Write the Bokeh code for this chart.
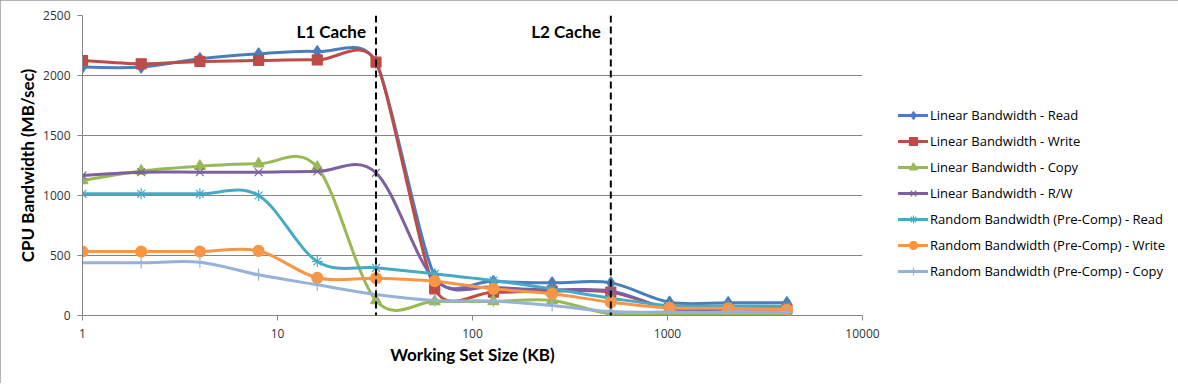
import math
from bokeh.plotting import figure
from bokeh.models import (Range1d, FixedTicker, PrintfTickFormatter, Span, Legend,
                          LegendItem, ColumnDataSource)
from bokeh.core.properties import value
from bokeh.embed import file_html
from bokeh.resources import INLINE

# ---------------- data ----------------
x_kb = [1, 2, 4, 8, 16, 32, 64, 128, 256, 512, 1024, 2048, 4096]
lin_read = [2070, 2070, 2140, 2180, 2200, 2110, 330, 285, 272, 272, 111, 107, 107]
lin_write = [2125, 2097, 2117, 2125, 2130, 2111, 222, 194, 205, 195, 60, 58, 55]
lin_copy = [1125, 1205, 1244, 1264, 1236, 125, 117, 117, 125, 14, 10, 10, 10]
lin_rw = [1167, 1194, 1194, 1194, 1200, 1189, 300, 236, 215, 205, 58, 55, 55]
rnd_read = [1014, 1014, 1014, 1000, 450, 397, 347, 292, 222, 144, 83, 80, 78]
rnd_write = [533, 533, 533, 539, 314, 311, 286, 222, 181, 111, 64, 60, 50]
rnd_copy = [439, 439, 444, 339, 256, 175, 125, 120, 83, 33, 28, 25, 25]

series_names = [
    "Linear Bandwidth - Read",
    "Linear Bandwidth - Write",
    "Linear Bandwidth - Copy",
    "Linear Bandwidth - R/W",
    "Random Bandwidth (Pre-Comp) - Read",
    "Random Bandwidth (Pre-Comp) - Write",
    "Random Bandwidth (Pre-Comp) - Copy",
]
series_values = [lin_read, lin_write, lin_copy, lin_rw, rnd_read, rnd_write, rnd_copy]

cache_sizes = [32, 512]
cache_labels = ["L1 Cache", "L2 Cache"]

x_ticks = [1, 10, 100, 1000, 10000]
y_ticks = [0, 500, 1000, 1500, 2000, 2500]

# ---------------- styles ----------------
colors = ["#4A7EBB", "#BE4B48", "#98B954", "#7D60A0", "#46AAC5", "#F79646", "#95B3D7"]
markers = ["diamond", "square", "triangle", "x", "asterisk", "circle", "cross"]
msizes = [12, 10, 11, 11, 11, 11, 12]

X_START, X_END = 1, 10000
Y_START, Y_END = 0, 2500
FRAME_W, FRAME_H = 780, 300
LABEL_FONT = "Lato"
TEXT_FONT = "Open Sans"

PX_DEC = FRAME_W / math.log10(X_END / X_START)
PX_Y = FRAME_H / (Y_END - Y_START)


def smooth(xs, ys):
    """Excel-like smoothed line: cubic Bezier control points in screen space."""
    sx = [math.log10(x) * PX_DEC for x in xs]
    sy = [y * PX_Y for y in ys]
    n = len(sx)
    cin, cout = [], []
    for i in range(n):
        a, b = max(i - 1, 0), min(i + 1, n - 1)
        tx, ty = sx[b] - sx[a], sy[b] - sy[a]
        tl = math.hypot(tx, ty)
        f = 1.0 / 6.0
        if tl > 0:
            if i > 0:
                f = min(f, math.hypot(sx[i] - sx[i - 1], sy[i] - sy[i - 1]) / (2 * tl))
            if i < n - 1:
                f = min(f, math.hypot(sx[i + 1] - sx[i], sy[i + 1] - sy[i]) / (2 * tl))
        cin.append((sx[i] - f * tx, sy[i] - f * ty))
        cout.append((sx[i] + f * tx, sy[i] + f * ty))
    bx = lambda v: 10 ** (v / PX_DEC)
    by = lambda v: v / PX_Y
    d = dict(x0=[], y0=[], x1=[], y1=[], cx0=[], cy0=[], cx1=[], cy1=[])
    for i in range(n - 1):
        d["x0"].append(xs[i]); d["y0"].append(ys[i])
        d["x1"].append(xs[i + 1]); d["y1"].append(ys[i + 1])
        d["cx0"].append(bx(cout[i][0])); d["cy0"].append(by(cout[i][1]))
        d["cx1"].append(bx(cin[i + 1][0])); d["cy1"].append(by(cin[i + 1][1]))
    return ColumnDataSource(d)


p = figure(
    x_axis_type="log",
    x_range=Range1d(X_START, X_END),
    y_range=Range1d(Y_START, Y_END),
    frame_width=FRAME_W, frame_height=FRAME_H,
    min_border_left=82, min_border_right=314, min_border_top=15, min_border_bottom=68,
    output_backend="svg", toolbar_location=None,
    background_fill_color="white", border_fill_color="white",
)
p.outline_line_color = None
p.styles = {"outline": "1px solid #9a9a9a", "outline-offset": "-1px"}

# grid
p.xgrid.grid_line_color = None
p.ygrid.grid_line_color = "#868686"
p.ygrid.grid_line_width = 1

# axes
for ax in (p.xaxis[0], p.yaxis[0]):
    ax.axis_line_color = "#868686"
    ax.major_tick_line_color = "#868686"
    ax.major_tick_out = 5
    ax.major_tick_in = 0
    ax.minor_tick_line_color = None
    ax.major_label_text_font = TEXT_FONT
    ax.major_label_text_font_size = "12px"
    ax.major_label_text_color = "#333333"
    ax.axis_label_text_font = LABEL_FONT
    ax.axis_label_text_font_style = "bold"
    ax.axis_label_text_font_size = "17px"
    ax.axis_label_text_color = "black"

p.xaxis.ticker = FixedTicker(ticks=x_ticks)
p.xaxis.formatter = PrintfTickFormatter(format="%d")
p.yaxis.ticker = FixedTicker(ticks=y_ticks)
p.xaxis.axis_label = "Working Set Size (KB)"
p.yaxis.axis_label = "CPU Bandwidth (MB/sec)"
p.xaxis.major_label_standoff = 8
p.yaxis.major_label_standoff = 7
p.xaxis.axis_label_standoff = 3
p.yaxis.axis_label_standoff = 2

# series
items = []
for name, vals, col, mk, ms in zip(series_names, series_values, colors, markers, msizes):
    src = smooth(x_kb, vals)
    br = p.bezier(x0="x0", y0="y0", x1="x1", y1="y1", cx0="cx0", cy0="cy0",
                  cx1="cx1", cy1="cy1", source=src, line_color=col, line_width=3,
                  line_cap="round")
    sr = p.scatter(x_kb, vals, marker=mk, size=ms, fill_color=col, line_color=col,
                   line_width=1.2)
    items.append(LegendItem(label=name, renderers=[br, sr]))

# cache boundaries
for cs in cache_sizes:
    p.add_layout(Span(location=cs, dimension="height", line_color="black",
                      line_width=2, line_dash="7 4"))
CACHE_LABEL_Y = 2365
p.text(x=cache_sizes, y=[CACHE_LABEL_Y] * len(cache_sizes), text=cache_labels,
       text_font=value(LABEL_FONT), text_font_style="bold", text_font_size="17px",
       text_align="right", text_baseline="middle", x_offset=-10, text_color="black")

legend = Legend(items=items, location=(36, 34))
legend.label_text_font = TEXT_FONT
legend.label_text_font_size = "13px"
legend.label_text_color = "black"
legend.glyph_width = 30
legend.glyph_height = 20
legend.label_height = 20
legend.spacing = 6
legend.padding = 0
legend.margin = 0
legend.label_standoff = 2
legend.border_line_color = None
legend.background_fill_alpha = 0
p.add_layout(legend, "right")

open("out.html", "w").write(file_html(p, INLINE))
